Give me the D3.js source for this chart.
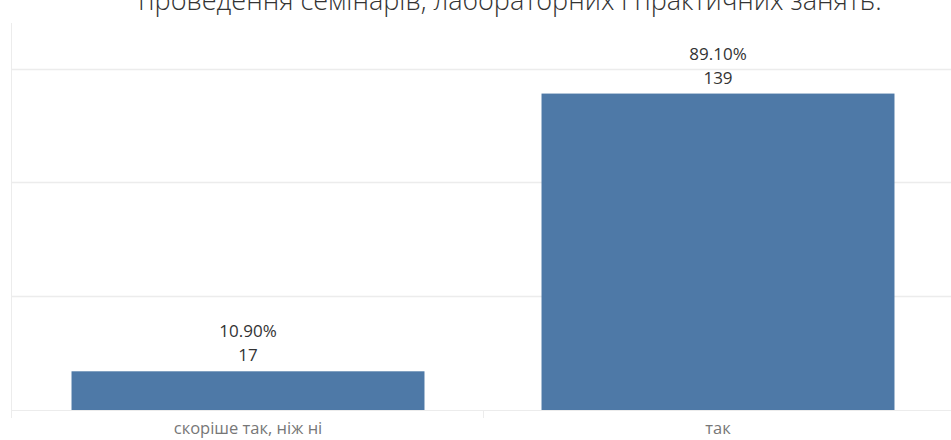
<!DOCTYPE html>
<html>
<head>
<meta charset="utf-8">
<script src="https://cdn.jsdelivr.net/npm/d3@7"></script>
<style>
  body { margin: 0; background: #fff; }
  svg { display: block; font-family: "Open Sans", "Noto Sans", sans-serif; }
</style>
</head>
<body>
<div id="chart"></div>
<script>
const categories = ["скоріше так, ніж ні", "так"];
const counts = [17, 139];
const percents = ["10.90%", "89.10%"];
const gridTicks = [0, 50, 100, 150];
const titleText = "проведення семінарів, лабораторних і практичних занять.";

const width = 951, height = 440;
const margin = { top: 23, right: 0, bottom: 30, left: 11 };
const innerW = width - margin.left - margin.right;
const innerH = height - margin.top - margin.bottom;

const svg = d3.select("#chart").append("svg")
    .attr("width", width)
    .attr("height", height);

// title, its upper part is outside the frame like in the original
svg.append("text")
    .attr("x", 510)
    .attr("y", 10)
    .attr("text-anchor", "middle")
    .style("font-size", "27px")
    .style("font-weight", 300)
    .style("fill", "#333")
    .text(titleText);

const g = svg.append("g")
    .attr("transform", `translate(${margin.left},${margin.top})`);

const x = d3.scaleBand()
    .domain(categories)
    .range([2, innerW + 2])
    .paddingInner(0.249)
    .paddingOuter(0.1245);

const y = d3.scaleLinear()
    .domain([0, 170])
    .range([innerH, 0]);

// gridlines
g.selectAll("line.grid")
    .data(gridTicks.filter(d => d > 0))
    .enter().append("line")
    .attr("class", "grid")
    .attr("x1", 0)
    .attr("x2", innerW)
    .attr("y1", d => Math.round(y(d)) + 0.5)
    .attr("y2", d => Math.round(y(d)) + 0.5)
    .style("stroke", "#ececec")
    .style("stroke-width", 1.5);

// left border
g.append("line")
    .attr("x1", 0.5).attr("x2", 0.5)
    .attr("y1", 0).attr("y2", innerH + 8)
    .style("stroke", "#ececec");

// baseline
g.append("line")
    .attr("x1", 0).attr("x2", innerW)
    .attr("y1", innerH + 0.5).attr("y2", innerH + 0.5)
    .style("stroke", "#ececec");

// divider between category headers
const divX = Math.round(x(categories[1]) - x.step() * x.paddingInner() / 2) + 0.5;
g.append("line")
    .attr("x1", divX).attr("x2", divX)
    .attr("y1", innerH)
    .attr("y2", innerH + 8)
    .style("stroke", "#ececec");

// bars
g.selectAll("rect.bar")
    .data(categories)
    .enter().append("rect")
    .attr("class", "bar")
    .attr("x", d => x(d))
    .attr("width", x.bandwidth())
    .attr("y", (d, i) => y(counts[i]))
    .attr("height", (d, i) => innerH - y(counts[i]))
    .style("fill", "#4e79a7");

// value labels
g.selectAll("text.count")
    .data(categories)
    .enter().append("text")
    .attr("class", "count")
    .attr("x", d => x(d) + x.bandwidth() / 2)
    .attr("y", (d, i) => y(counts[i]) - 10)
    .attr("text-anchor", "middle")
    .style("font-size", "17px")
    .style("fill", "#333")
    .text((d, i) => counts[i]);

g.selectAll("text.pct")
    .data(categories)
    .enter().append("text")
    .attr("class", "pct")
    .attr("x", d => x(d) + x.bandwidth() / 2)
    .attr("y", (d, i) => y(counts[i]) - 34)
    .attr("text-anchor", "middle")
    .style("font-size", "17px")
    .style("fill", "#333")
    .text((d, i) => percents[i]);

// category labels
g.selectAll("text.cat")
    .data(categories)
    .enter().append("text")
    .attr("class", "cat")
    .attr("x", d => x(d) + x.bandwidth() / 2)
    .attr("y", innerH + 24)
    .attr("text-anchor", "middle")
    .style("font-size", "16.5px")
    .style("fill", "#777")
    .text(d => d);
</script>
</body>
</html>
